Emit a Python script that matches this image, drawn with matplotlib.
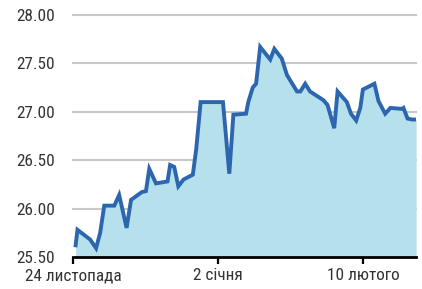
"""Hryvnia rate chart, 24 Nov - late Feb."""

import matplotlib
matplotlib.use("Agg")
import matplotlib.pyplot as plt

# day offset from 24 Nov, rate
days = [0.7, 1.2, 4.6, 6.2, 7.3, 8.4, 11.1, 12.4, 14.4, 15.6, 18.5, 19.6,
        20.5, 22.3, 25.4, 26.1, 27.2, 28.3, 29.7, 32.2, 33.1, 34.3, 40.3,
        42.0, 43.1, 46.5, 47.1, 48.3, 49.2, 50.3, 53.0, 54.1, 56.1, 57.5,
        60.2, 61.1, 62.4, 63.7, 67.3, 68.4, 70.2, 71.1, 73.6, 74.7, 76.1,
        77.2, 77.9, 81.0, 82.1, 83.9, 85.3, 88.4, 88.8, 89.9, 91.1, 92.2]
rate = [25.62, 25.78, 25.68, 25.59, 25.75, 26.03, 26.03, 26.14, 25.80, 26.09,
        26.17, 26.18, 26.41, 26.26, 26.28, 26.45, 26.43, 26.23, 26.30, 26.35,
        26.61, 27.10, 27.10, 26.36, 26.97, 26.98, 27.10, 27.25, 27.29, 27.67,
        27.54, 27.65, 27.55, 27.38, 27.21, 27.21, 27.29, 27.21, 27.12, 27.07,
        26.83, 27.21, 27.10, 26.98, 26.91, 27.04, 27.23, 27.29, 27.11, 26.98,
        27.04, 27.03, 27.04, 26.93, 26.92, 26.92]

tick_days = [0, 39, 78]
tick_labels = ["24 листопада", "2 січня", "10 лютого"]
y_ticks = [25.5, 26.0, 26.5, 27.0, 27.5, 28.0]

plt.rcParams["font.family"] = ["Roboto Condensed", "Archivo Narrow", "DejaVu Sans"]

fig = plt.figure(figsize=(4.22, 2.89), dpi=100)
ax = fig.add_axes([0.173, 0.111, 0.813, 0.837])

ax.fill_between(days, rate, 25.5, color="#b6e1ec", lw=0)
ax.plot(days, rate, color="#2c66ae", lw=2.8, solid_joinstyle="miter")

ax.set_xlim(0, 92.2)
ax.set_ylim(25.5, 28.0)
ax.set_yticks(y_ticks)
ax.set_yticklabels([f"{v:.2f}" for v in y_ticks])
ax.set_xticks(tick_days)
ax.set_xticklabels(tick_labels)

for v in y_ticks[1:]:
    ax.axhline(v, color="#c8c8c8", lw=1.5, zorder=0, clip_on=False)

for s in ["left", "right", "top"]:
    ax.spines[s].set_visible(False)
ax.spines["bottom"].set_linewidth(2)
ax.spines["bottom"].set_color("black")

ax.tick_params(axis="y", length=0, pad=13, labelsize=12.4, labelcolor="#333333")
ax.tick_params(axis="x", length=5, width=1.6, pad=3, labelsize=12.4,
               labelcolor="#333333", color="black")

plt.savefig("out.png", dpi=100)
plt.close(fig)
